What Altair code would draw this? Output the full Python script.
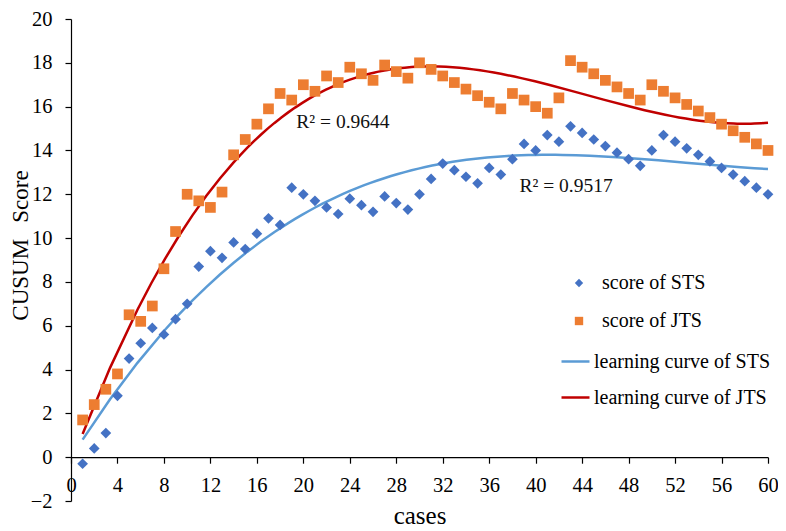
import altair as alt
import pandas as pd

cases = list(range(1, 61))
sts_scores = [-0.3, 0.4, 1.1, 2.8, 4.5, 5.2, 5.9, 5.6, 6.3, 7.0,
              8.7, 9.4, 9.1, 9.8, 9.5, 10.2, 10.9, 10.6, 12.3, 12.0,
              11.7, 11.4, 11.1, 11.8, 11.5, 11.2, 11.9, 11.6, 11.3, 12.0,
              12.7, 13.4, 13.1, 12.8, 12.5, 13.2, 12.9, 13.6, 14.3, 14.0,
              14.7, 14.4, 15.1, 14.8, 14.5, 14.2, 13.9, 13.6, 13.3, 14.0,
              14.7, 14.4, 14.1, 13.8, 13.5, 13.2, 12.9, 12.6, 12.3, 12.0]
jts_scores = [1.7, 2.4, 3.1, 3.8, 6.5, 6.2, 6.9, 8.6, 10.3, 12.0,
              11.7, 11.4, 12.1, 13.8, 14.5, 15.2, 15.9, 16.6, 16.3, 17.0,
              16.7, 17.4, 17.1, 17.8, 17.5, 17.2, 17.9, 17.6, 17.3, 18.0,
              17.7, 17.4, 17.1, 16.8, 16.5, 16.2, 15.9, 16.6, 16.3, 16.0,
              15.7, 16.4, 18.1, 17.8, 17.5, 17.2, 16.9, 16.6, 16.3, 17.0,
              16.7, 16.4, 16.1, 15.8, 15.5, 15.2, 14.9, 14.6, 14.3, 14.0]

series_names = ["score of STS", "score of JTS"]
curve_names = ["learning curve of STS", "learning curve of JTS"]
r2_labels = ["R\u00b2 = 0.9644", "R\u00b2 = 0.9517"]
r2_case = [19.4, 38.6]
r2_value = [15.3, 12.4]
x_ticks = list(range(0, 61, 4))
y_ticks = list(range(-2, 21, 2))

df = pd.DataFrame({
    "case": cases * 2,
    "value": sts_scores + jts_scores,
    "series": [series_names[0]] * 60 + [series_names[1]] * 60,
})
df_r2 = pd.DataFrame({"label": r2_labels, "case": r2_case, "value": r2_value})

FONT = "Liberation Serif"

x_enc = alt.X("case:Q",
              scale=alt.Scale(domain=[0, 60], nice=False, zero=False),
              axis=alt.Axis(values=x_ticks, title="cases", offset=-43.8,
                            labelPadding=12, titleFontSize=25, labelFlush=False,
                            titleY=66, titleBaseline="alphabetic"))
y_enc = alt.Y("value:Q",
              scale=alt.Scale(domain=[-2, 20], nice=False, zero=False),
              axis=alt.Axis(values=y_ticks, title="CUSUM\u2002\u2009Score",
                            labelPadding=13, titleFontSize=23, labelFlush=False,
                            titleX=-51, titleY=226, titleAngle=-90,
                            titleAlign="center", titleBaseline="middle"))

leg_points = alt.Legend(orient="none", legendX=498, legendY=254, title=None,
                        labelFont=FONT, labelFontSize=20, labelColor="black",
                        labelLimit=0,
                        symbolSize=70, rowPadding=18, labelOffset=13,
                        padding=0, symbolStrokeWidth=0)
leg_lines = alt.Legend(orient="none", legendX=489, legendY=327, title=None,
                       labelFont=FONT, labelFontSize=20, labelColor="black",
                       labelLimit=0,
                       symbolSize=784, symbolStrokeWidth=2.5, rowPadding=10,
                       labelOffset=3, padding=0)

points = alt.Chart(df).mark_point(filled=True, opacity=1, size=115).encode(
    x=x_enc, y=y_enc,
    color=alt.Color("series:N",
                    scale=alt.Scale(domain=series_names, range=["#4472C4", "#ED7D31"]),
                    legend=leg_points),
    shape=alt.Shape("series:N",
                    scale=alt.Scale(domain=series_names, range=["diamond", "square"]),
                    legend=leg_points),
)

lines = alt.Chart(df).transform_regression(
    "case", "value", method="poly", order=3, groupby=["series"]
).transform_calculate(
    curve="datum.series == 'score of STS' ? 'learning curve of STS' : 'learning curve of JTS'"
).mark_line(strokeWidth=2.5).encode(
    x="case:Q", y="value:Q",
    color=alt.Color("curve:N",
                    scale=alt.Scale(domain=curve_names, range=["#5B9BD5", "#C00000"]),
                    legend=leg_lines),
)

texts = alt.Chart(df_r2).mark_text(align="left", baseline="middle", font=FONT,
                                   fontSize=19.5, color="#111111").encode(
    x="case:Q", y="value:Q", text="label:N")

chart = alt.layer(lines, points, texts).resolve_scale(
    color="independent", shape="independent"
).properties(
    width=697, height=482,
    autosize=alt.AutoSizeParams(type="none"),
    padding={"left": 63, "top": 11, "right": 10, "bottom": 36},
).configure_view(stroke=None).configure_axis(
    grid=False, domainColor="black", tickColor="black", labelColor="black",
    titleColor="black", labelFont=FONT, titleFont=FONT, labelFontSize=20.5,
    titleFontWeight="normal", tickSize=6, domainWidth=1.2, tickWidth=1.2,
)

chart.save("out.html", embed_options={"renderer": "svg", "actions": False})
